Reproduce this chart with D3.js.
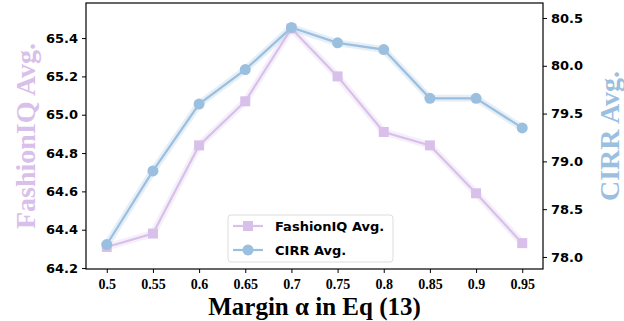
<!DOCTYPE html>
<html>
<head>
<meta charset="utf-8">
<script src="https://cdn.jsdelivr.net/npm/d3@7"></script>
<style>
  body { margin: 0; background: #fff; }
  svg { display: block; }
</style>
</head>
<body>
<svg id="chart" width="624" height="321"></svg>
<script>
// margin values on the x axis
const margins = [0.5, 0.55, 0.6, 0.65, 0.7, 0.75, 0.8, 0.85, 0.9, 0.95]
const xTickLabels = ['0.5', '0.55', '0.6', '0.65', '0.7', '0.75', '0.8', '0.85', '0.9', '0.95']

// series
const fashionIQ = [64.31, 64.38, 64.84, 65.07, 65.45, 65.20, 64.91, 64.84, 64.59, 64.33]
const cirr = [78.13, 78.90, 79.60, 79.96, 80.40, 80.24, 80.17, 79.66, 79.66, 79.35]

const leftTicks = [64.2, 64.4, 64.6, 64.8, 65.0, 65.2, 65.4]
const rightTicks = [78.0, 78.5, 79.0, 79.5, 80.0, 80.5]

const purple = '#d8c0ea'
const blue = '#9bbfdf'

const svg = d3.select('#chart')
const plot = {left: 86, right: 543, top: 3, bottom: 269}

// points sit evenly with a half-gap on each end
const x = d3.scalePoint().domain(margins).range([plot.left, plot.right]).padding(0.45)
const yL = d3.scaleLinear().domain([64.195, 65.583]).range([plot.bottom, plot.top])
const yR = d3.scaleLinear().domain([77.874, 80.657]).range([plot.bottom, plot.top])

// x axis
const xAxis = svg.append('g')
  .attr('transform', `translate(0,${plot.bottom})`)
  .call(d3.axisBottom(x).tickSizeOuter(0).tickSize(4).tickFormat((d, i) => xTickLabels[i]))
xAxis.select('.domain').remove()
xAxis.selectAll('line').attr('stroke', '#000').attr('stroke-width', 1)
xAxis.selectAll('text')
  .attr('dy', null).attr('y', 20)
  .attr('font-family', '"Liberation Serif", "Times New Roman", serif')
  .attr('font-weight', 'bold').attr('font-size', 14).attr('fill', '#000')

// left axis
const lAxis = svg.append('g')
  .attr('transform', `translate(${plot.left},0)`)
  .call(d3.axisLeft(yL).tickValues(leftTicks).tickSize(4).tickFormat(d3.format('.1f')))
lAxis.select('.domain').remove()
lAxis.selectAll('text')
  .attr('x', -8)
  .attr('font-family', '"DejaVu Sans", sans-serif')
  .attr('font-weight', 'bold').attr('font-size', 13).attr('fill', '#000')

// right axis
const rAxis = svg.append('g')
  .attr('transform', `translate(${plot.right},0)`)
  .call(d3.axisRight(yR).tickValues(rightTicks).tickSize(4).tickFormat(d3.format('.1f')))
rAxis.select('.domain').remove()
rAxis.selectAll('text')
  .attr('x', 8)
  .attr('font-family', '"DejaVu Sans", sans-serif')
  .attr('font-weight', 'bold').attr('font-size', 13).attr('fill', '#000')

// frame
svg.append('rect')
  .attr('x', plot.left).attr('y', plot.top)
  .attr('width', plot.right - plot.left).attr('height', plot.bottom - plot.top)
  .attr('fill', 'none').attr('stroke', '#000').attr('stroke-width', 1.2)

function drawSeries(vals, y, color, shape) {
  const pts = vals.map((v, i) => [x(margins[i]), y(v)])
  // faint halo band
  svg.append('path')
    .attr('d', d3.line()(pts))
    .attr('fill', 'none').attr('stroke', color).attr('stroke-opacity', 0.25)
    .attr('stroke-width', 7).attr('stroke-linejoin', 'round')
  svg.append('path')
    .attr('d', d3.line()(pts))
    .attr('fill', 'none').attr('stroke', color).attr('stroke-width', 2.2)
  if (shape == 'square') {
    svg.selectAll(null).data(pts).enter().append('rect')
      .attr('x', d => d[0] - 5).attr('y', d => d[1] - 5)
      .attr('width', 10).attr('height', 10).attr('fill', color)
  } else {
    svg.selectAll(null).data(pts).enter().append('circle')
      .attr('cx', d => d[0]).attr('cy', d => d[1]).attr('r', 5.5).attr('fill', color)
  }
}

drawSeries(fashionIQ, yL, purple, 'square')
drawSeries(cirr, yR, blue, 'circle')

// legend
const lg = svg.append('g').attr('transform', 'translate(228,215)')
lg.append('rect')
  .attr('width', 165).attr('height', 47).attr('rx', 3)
  .attr('fill', '#fff').attr('fill-opacity', 0.85)
  .attr('stroke', '#ddd').attr('stroke-width', 1)
const entries = [
  {label: 'FashionIQ Avg.', color: purple, shape: 'square'},
  {label: 'CIRR Avg.', color: blue, shape: 'circle'}
]
entries.forEach(function (e, i) {
  const cy = 11 + i * 24
  lg.append('line').attr('x1', 5).attr('x2', 35).attr('y1', cy).attr('y2', cy)
    .attr('stroke', e.color).attr('stroke-width', 2.2)
  if (e.shape == 'square')
    lg.append('rect').attr('x', 15).attr('y', cy - 5).attr('width', 10).attr('height', 10).attr('fill', e.color)
  else
    lg.append('circle').attr('cx', 20).attr('cy', cy).attr('r', 5.5).attr('fill', e.color)
  lg.append('text').attr('x', 47).attr('y', cy + 5)
    .attr('font-family', '"DejaVu Sans", sans-serif')
    .attr('font-weight', 'bold').attr('font-size', 13)
    .text(e.label)
})

// axis titles
svg.append('text')
  .attr('transform', `translate(35,${(plot.top + plot.bottom) / 2}) rotate(-90)`)
  .attr('text-anchor', 'middle')
  .attr('font-family', '"Liberation Serif", "Times New Roman", serif')
  .attr('font-weight', 'bold').attr('font-size', 28).attr('fill', purple)
  .text('FashionIQ Avg.')

svg.append('text')
  .attr('transform', `translate(619,${(plot.top + plot.bottom) / 2}) rotate(-90)`)
  .attr('text-anchor', 'middle')
  .attr('font-family', '"Liberation Serif", "Times New Roman", serif')
  .attr('font-weight', 'bold').attr('font-size', 28).attr('fill', blue)
  .text('CIRR Avg.')

svg.append('text')
  .attr('x', (plot.left + plot.right) / 2).attr('y', 315)
  .attr('text-anchor', 'middle')
  .attr('font-family', '"Liberation Serif", "Times New Roman", serif')
  .attr('font-weight', 'bold').attr('font-size', 25).attr('fill', '#000')
  .text('Margin α in Eq (13)')
</script>
</body>
</html>
